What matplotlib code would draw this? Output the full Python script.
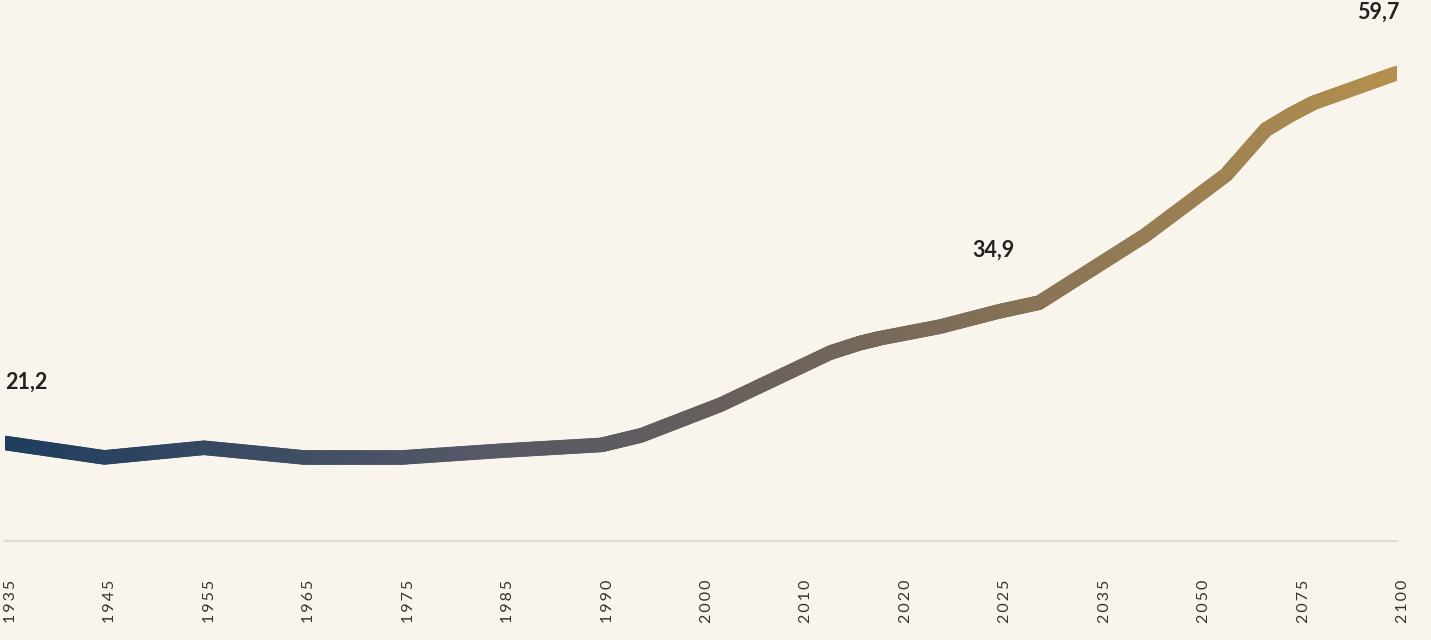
import numpy as np
import matplotlib.pyplot as plt
import matplotlib.transforms as mtransforms
from matplotlib.collections import LineCollection
from matplotlib.colors import LinearSegmentedColormap

plt.rcParams['font.family'] = ['Lato', 'DejaVu Sans']

# x categories (evenly spaced on the axis)
tick_years = [1935, 1945, 1955, 1965, 1975, 1985, 1990, 2000, 2010, 2020,
              2025, 2035, 2050, 2075, 2100]
# series
years = [1935, 1945, 1955, 1965, 1975, 1985, 1990, 1994, 2002, 2013, 2016,
         2018, 2022, 2025, 2029, 2042, 2057, 2067, 2073, 2079, 2100]
values = [21.2, 19.7, 20.7, 19.7, 19.7, 20.4, 21.0, 22.0, 25.2, 30.6, 31.6,
          32.1, 33.3, 34.9, 35.8, 42.8, 49.1, 53.8, 55.3, 56.6, 59.7]
labels = {1935: '21,2', 2025: '34,9', 2100: '59,7'}

bg = '#f9f5ec'
grad = LinearSegmentedColormap.from_list('grad', [
    (0.0, '#1e3d5e'), (0.34, '#555866'), (0.5, '#655e5e'),
    (0.68, '#7d6c58'), (1.0, '#b4904e')])

idx = np.arange(len(tick_years))


def fwd(y):
    return np.interp(y, tick_years, idx)


def inv(i):
    return np.interp(i, idx, tick_years)


fig = plt.figure(figsize=(14.31, 6.4), dpi=100, facecolor=bg)
ax = fig.add_axes([5 / 1431, 99 / 640, 1392 / 1431, 541 / 640])
ax.set_facecolor(bg)
ax.set_xscale('function', functions=(fwd, inv))
ax.set_xlim(1935, 2100)
ax.set_ylim(11.0, 67.3)

# split every straight piece into short bits only so the colour can fade
segs, cols = [], []
for k in range(len(years) - 1):
    t = np.linspace(0, 1, 25)
    xa, xb = fwd(years[k]), fwd(years[k + 1])
    xi = xa + (xb - xa) * t
    yi = values[k] + (values[k + 1] - values[k]) * t
    xs = inv(xi)
    for j in range(len(t) - 1):
        segs.append([(xs[j], yi[j]), (xs[j + 1], yi[j + 1])])
        cols.append(grad((xi[j] + xi[j + 1]) / 2 / idx[-1]))
lc = LineCollection(segs, colors=cols, linewidths=10.5, capstyle='round',
                    joinstyle='round')
ax.add_collection(lc)

for yr, txt in labels.items():
    v = values[years.index(yr)]
    ha = 'left' if yr == years[0] else ('right' if yr == years[-1] else 'center')
    dx = {'left': 0, 'center': -4, 'right': 2}[ha]
    ax.annotate(txt, (yr, v), xytext=(dx, 44), textcoords='offset points',
                ha=ha, va='center', fontsize=15.5, fontweight='bold',
                color='#222222', annotation_clip=False)

for s in ['top', 'right', 'left']:
    ax.spines[s].set_visible(False)
ax.spines['bottom'].set_color('#dddbd5')
ax.spines['bottom'].set_linewidth(1.5)
ax.set_yticks([])
ax.set_xticks(tick_years)
ax.set_xticklabels(['\u2009'.join(str(y)) for y in tick_years], rotation=90,
                   fontsize=11.5, fontweight='normal', color='#333333')
ax.tick_params(axis='x', length=0, pad=28)
ax.minorticks_off()
shift = mtransforms.ScaledTranslation(6 / 100, 0, fig.dpi_scale_trans)
for lab in ax.get_xticklabels():
    lab.set_transform(lab.get_transform() + shift)

fig.savefig('out.png', dpi=100, facecolor=bg)
